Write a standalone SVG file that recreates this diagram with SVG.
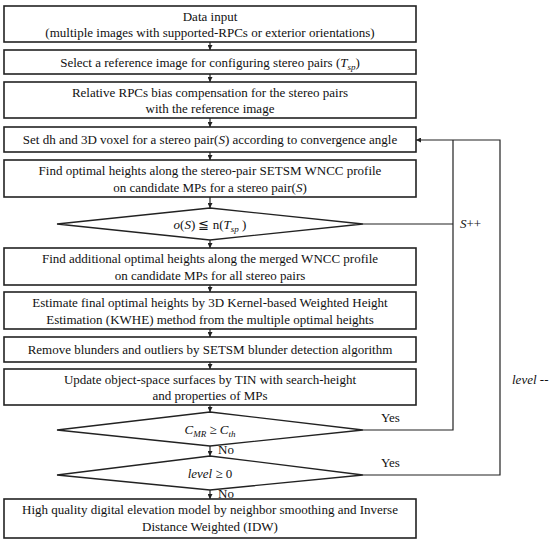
<svg xmlns="http://www.w3.org/2000/svg" width="550" height="546" viewBox="0 0 550 546">
<defs>
<style>
.box{fill:#fff;stroke:#222;stroke-width:1.6}
.dia{fill:#fff;stroke:#222;stroke-width:1.3}
text{font-family:'Liberation Serif','Times New Roman',serif;font-size:13px;fill:#111}
.t{text-anchor:middle}
.i{font-style:italic}
.c{fill:none;stroke:#222;stroke-width:1.2}
</style>
<marker id="ah" viewBox="0 0 8 8" refX="8" refY="4" markerWidth="5" markerHeight="5" orient="auto" markerUnits="userSpaceOnUse">
<path d="M0,0 L8,4 L0,8 z" fill="#222"/>
</marker>
</defs>
<rect width="550" height="546" fill="#fff"/>
<g id="connectors">
<line class="c" x1="210" y1="42" x2="210" y2="50" marker-end="url(#ah)"/>
<line class="c" x1="210" y1="74" x2="210" y2="82" marker-end="url(#ah)"/>
<line class="c" x1="210" y1="118" x2="210" y2="127" marker-end="url(#ah)"/>
<line class="c" x1="210" y1="152" x2="210" y2="160" marker-end="url(#ah)"/>
<line class="c" x1="210" y1="197" x2="210" y2="208" marker-end="url(#ah)"/>
<line class="c" x1="210" y1="240" x2="210" y2="248" marker-end="url(#ah)"/>
<line class="c" x1="210" y1="285" x2="210" y2="292" marker-end="url(#ah)"/>
<line class="c" x1="210" y1="329" x2="210" y2="337" marker-end="url(#ah)"/>
<line class="c" x1="210" y1="362" x2="210" y2="369" marker-end="url(#ah)"/>
<line class="c" x1="210" y1="405" x2="210" y2="412" marker-end="url(#ah)"/>
<line class="c" x1="210" y1="446" x2="210" y2="456" marker-end="url(#ah)"/>
<line class="c" x1="210" y1="490" x2="210" y2="499" marker-end="url(#ah)"/>
<polyline class="c" points="363,224 453,224"/>
<polyline class="c" points="363,430 453,430 453,140"/>
<polyline class="c" points="363,475 500,475 500,140 416,140" marker-end="url(#ah)"/>
<text x="460" y="228"><tspan class="i">S</tspan>++</text>
<text x="512" y="384"><tspan class="i">level</tspan> --</text>
<text x="381" y="422">Yes</text>
<text x="381" y="467">Yes</text>
<text x="218" y="454">No</text>
<text x="218" y="498">No</text>
</g>
<g id="n1"><rect class="box" x="4" y="6" width="412" height="36"/>
<text class="t" x="210" y="20.5">Data input</text>
<text class="t" x="210" y="37">(multiple images with supported-RPCs or exterior orientations)</text></g>
<g id="n2"><rect class="box" x="4" y="50" width="412" height="24"/>
<text class="t" x="210" y="66.5">Select a reference image for configuring stereo pairs (<tspan class="i">T</tspan><tspan class="i" font-size="9" dy="3">sp</tspan><tspan dy="-3">)</tspan></text></g>
<g id="n3"><rect class="box" x="4" y="82" width="412" height="36"/>
<text class="t" x="210" y="96.5">Relative RPCs bias compensation for the stereo pairs</text>
<text class="t" x="210" y="113">with the reference image</text></g>
<g id="n4"><rect class="box" x="4" y="127" width="412" height="25"/>
<text class="t" x="210" y="144">Set dh and 3D voxel for a stereo pair(<tspan class="i">S</tspan>) according to convergence angle</text></g>
<g id="n5"><rect class="box" x="4" y="160" width="412" height="37"/>
<text class="t" x="210" y="175">Find optimal heights along the stereo-pair SETSM WNCC profile</text>
<text class="t" x="210" y="191.5">on candidate MPs for a stereo pair(<tspan class="i">S</tspan>)</text></g>
<g id="d1"><polygon class="dia" points="210,208 363,224 210,240 57,224"/>
<text class="t" x="210" y="229"><tspan class="i">o</tspan>(<tspan class="i">S</tspan>) ≦ n(<tspan class="i">T</tspan><tspan class="i" font-size="9" dy="3">sp</tspan><tspan dy="-3"> )</tspan></text></g>
<g id="n6"><rect class="box" x="4" y="248" width="412" height="37"/>
<text class="t" x="210" y="263">Find additional optimal heights along the merged WNCC profile</text>
<text class="t" x="210" y="279.5">on candidate MPs for all stereo pairs</text></g>
<g id="n7"><rect class="box" x="4" y="292" width="412" height="37"/>
<text class="t" x="210" y="307">Estimate final optimal heights by 3D Kernel-based Weighted Height</text>
<text class="t" x="210" y="323.5">Estimation (KWHE) method from the multiple optimal heights</text></g>
<g id="n8"><rect class="box" x="4" y="337" width="412" height="25"/>
<text class="t" x="210" y="354">Remove blunders and outliers by SETSM blunder detection algorithm</text></g>
<g id="n9"><rect class="box" x="4" y="369" width="412" height="36"/>
<text class="t" x="210" y="383.5">Update object-space surfaces by TIN with search-height</text>
<text class="t" x="210" y="400">and properties of MPs</text></g>
<g id="d2"><polygon class="dia" points="210,412 363,430 210,446 57,430"/>
<text class="t" x="210" y="434"><tspan class="i">C</tspan><tspan class="i" font-size="9" dy="3">MR</tspan><tspan dy="-3"> ≥ </tspan><tspan class="i">C</tspan><tspan class="i" font-size="9" dy="3">th</tspan></text></g>
<g id="d3"><polygon class="dia" points="210,456 363,475 210,490 57,475"/>
<text class="t" x="210" y="478"><tspan class="i">level</tspan> ≥ 0</text></g>
<g id="n10"><rect class="box" x="4" y="499" width="412" height="39"/>
<text class="t" x="210" y="514">High quality digital elevation model by neighbor smoothing and Inverse</text>
<text class="t" x="210" y="531">Distance Weighted (IDW)</text></g>
</svg>
